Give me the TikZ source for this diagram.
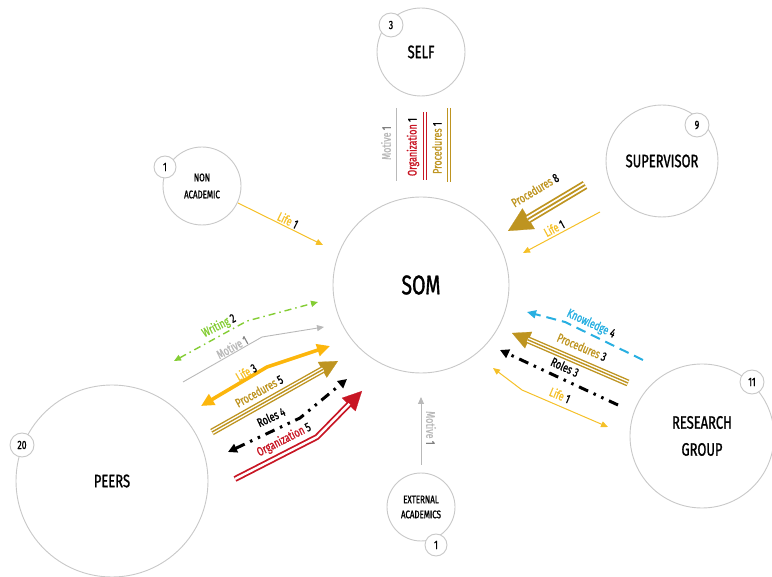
\documentclass[tikz,border=0pt]{standalone}
\usepackage{fontspec}
\setmainfont{Fira Sans}[FakeStretch=0.72, FakeBold=1.2]
\usetikzlibrary{arrows.meta,calc}

\definecolor{colRing}{RGB}{200,200,200}
\definecolor{colMotive}{RGB}{185,185,185}
\definecolor{colLife}{RGB}{245,192,40}
\definecolor{colLifeThick}{RGB}{252,182,12}
\definecolor{colGold}{RGB}{190,148,32}
\definecolor{colRed}{RGB}{200,22,36}
\definecolor{colGreen}{RGB}{132,205,52}
\definecolor{colCyan}{RGB}{40,175,225}

\tikzstyle{actor}=[circle, draw=colRing, line width=0.9pt, fill=white, inner sep=0pt, align=center, font=\fontsize{18}{27}\selectfont]
\tikzstyle{badge}=[circle, draw=colRing, line width=0.9pt, fill=white, inner sep=0pt, minimum size=24pt, font=\fontsize{12}{12}\selectfont]
\tikzstyle{lbl}=[inner sep=0pt, font=\fontsize{12.5}{12.5}\selectfont]
\tikzstyle{smallhead}=[-{Triangle[length=7pt,width=6pt]}]
\tikzstyle{motive}=[colMotive, line width=0.9pt]
\tikzstyle{life}=[colLife, line width=1pt]
\tikzstyle{lifethick}=[colLifeThick, line width=3.6pt, {Triangle[length=13pt,width=12pt]}-{Triangle[length=13pt,width=12pt]}]
\tikzstyle{writing}=[colGreen, line width=1.4pt, dash pattern=on 7pt off 4pt on 1.5pt off 4pt, {Triangle[length=7pt,width=6pt]}-{Triangle[length=7pt,width=6pt]}]
\tikzstyle{knowledge}=[colCyan, line width=2pt, dash pattern=on 10pt off 6pt, -{Triangle[length=9pt,width=8pt]}]
\tikzstyle{roles}=[black, line width=3pt, dash pattern=on 10pt off 6pt on 2.5pt off 6pt on 2.5pt off 6pt]
\tikzstyle{rolesboth}=[roles, {Triangle[length=9pt,width=9pt]}-{Triangle[length=9pt,width=9pt]}]
\tikzstyle{rolesend}=[roles, -{Triangle[length=9pt,width=9pt]}]
\tikzstyle{procshaft}=[colGold, line width=7pt, postaction={draw=white, line width=4.2pt}, postaction={draw=colGold, line width=1.4pt}]
\tikzstyle{procshaftbig}=[colGold, line width=9pt, postaction={draw=white, line width=5.4pt}, postaction={draw=colGold, line width=1.8pt}]
\tikzstyle{prochead}=[colGold, line width=0.2pt, -{Triangle[length=18pt,width=18pt]}]
\tikzstyle{procheadbig}=[colGold, line width=0.2pt, -{Triangle[length=24pt,width=24pt]}]
\tikzstyle{procthin}=[colGold, line width=4.6pt, postaction={draw=white, line width=2pt}]
\tikzstyle{orgshaft}=[colRed, line width=6pt, postaction={draw=white, line width=2.4pt}]
\tikzstyle{orghead}=[colRed, line width=0.2pt, -{Triangle[length=19pt,width=19pt]}]
\tikzstyle{orgthin}=[colRed, line width=4.4pt, postaction={draw=white, line width=1.8pt}]

\begin{document}
\begin{tikzpicture}[x=1pt, y=-1pt]
\useasboundingbox (0,0) rectangle (772,577);

% Actors
\node[actor, minimum size=176pt, font=\fontsize{27}{27}\selectfont] (som) at (421,285) {SOM};
\node[actor, minimum size=88pt] (self) at (421,52) {SELF};
\node[actor, minimum size=112pt] (sup) at (662,161) {SUPERVISOR};
\node[actor, minimum size=78pt, font=\fontsize{11}{17}\selectfont] (nonac) at (202,186) {NON\\ACADEMIC};
\node[actor, minimum size=144pt] (resgr) at (702,436) {RESEARCH\\GROUP};
\node[actor, minimum size=192pt] (peers) at (112,481) {PEERS};
\node[actor, minimum size=68pt, font=\fontsize{11}{15}\selectfont] (extac) at (421,507) {EXTERNAL\\ACADEMICS};

% Counts
\node[badge] (selfN) at (391,25) {3};
\node[badge] (supN) at (697,125) {9};
\node[badge, minimum size=22pt] (nonacN) at (165,167) {1};
\node[badge] (resgrN) at (752,382) {11};
\node[badge] (peersN) at (22,445) {20};
\node[badge, minimum size=22pt] (extacN) at (436,545) {1};

% Non academic
\coordinate (na1) at (238,203);
\coordinate (na2) at (323,245);
\draw[life, smallhead] (na1) -- (na2);
\node[lbl, rotate=-26] (naLife) at (288,220) {\textcolor{colLife}{Life} 1};

% Self
\coordinate (sm1) at (396,108);
\coordinate (sm2) at (396,181);
\coordinate (so1) at (425,112);
\coordinate (so2) at (425,180);
\coordinate (sp1) at (449,108);
\coordinate (sp2) at (449,182);
\draw[motive] (sm1) -- (sm2);
\draw[orgthin] (so1) -- (so2);
\draw[procthin] (sp1) -- (sp2);
\node[lbl, rotate=90] (smLbl) at (386,143) {\textcolor{colMotive}{Motive} \textcolor{gray}{1}};
\node[lbl, rotate=90] (soLbl) at (413,147) {\textcolor{colRed}{Organization} 1};
\node[lbl, rotate=90] (spLbl) at (437,148) {\textcolor{colGold}{Procedures} 1};

% Supervisor
\coordinate (su1) at (585,185);
\coordinate (su2) at (508,231);
\draw[procheadbig] (su1) -- (su2);
\draw[procshaftbig] (su1) -- ($(su2)!23pt!(su1)$);
\node[lbl, rotate=31] (suProc) at (535,190) {\textcolor{colGold}{Procedures} 8};
\coordinate (sl1) at (600,212);
\coordinate (sl2) at (523,253);
\draw[life, smallhead] (sl1) -- (sl2);
\node[lbl, rotate=28] (suLife) at (554,228) {\textcolor{colLife}{Life} 1};

% Peers
\coordinate (pw1) at (174,361);
\coordinate (pw2) at (247,321);
\coordinate (pw3) at (318,302);
\draw[writing] (pw1) -- (pw2) -- (pw3);
\node[lbl, rotate=27] (pwLbl) at (219,326) {\textcolor{colGreen}{Writing} 2};
\coordinate (pm1) at (183,382);
\coordinate (pm2) at (262,337);
\coordinate (pm3) at (324,327);
\draw[motive, smallhead] (pm1) -- (pm2) -- (pm3);
\node[lbl, rotate=29] (pmLbl) at (232,347) {\textcolor{colMotive}{Motive} \textcolor{gray}{1}};
\coordinate (pl1) at (201,406);
\coordinate (pl2) at (267,367);
\coordinate (pl3) at (330,346);
\draw[lifethick] (pl1) -- (pl2) -- (pl3);
\node[lbl, rotate=30] (plLbl) at (246,372) {\textcolor{colLife}{Life} 3};
\coordinate (pp1) at (212,432);
\coordinate (pp2) at (338,361);
\draw[prochead] (pp1) -- (pp2);
\draw[procshaft] (pp1) -- ($(pp2)!17pt!(pp1)$);
\node[lbl, rotate=29] (ppLbl) at (259,391) {\textcolor{colGold}{Procedures} 5};
\coordinate (pr1) at (228,452);
\coordinate (pr2) at (300,418);
\coordinate (pr3) at (347,379);
\draw[rolesboth] (pr1) -- (pr2) -- (pr3);
\node[lbl, rotate=25] (prLbl) at (271,417) {Roles 4};
\coordinate (po1) at (235,479);
\coordinate (po2) at (317,437);
\coordinate (po3) at (362,391);
\draw[orghead] (po2) -- (po3);
\draw[orgshaft] (po1) -- (po2) -- ($(po3)!18pt!(po2)$);
\node[lbl, rotate=27] (poLbl) at (284,440) {\textcolor{colRed}{Organization} 5};

% Research group
\coordinate (rk1) at (643,360);
\coordinate (rk2) at (565,322);
\coordinate (rk3) at (527,312);
\draw[knowledge] (rk1) -- (rk2) -- (rk3);
\node[lbl, rotate=-25] (rkLbl) at (591,324) {\textcolor{colCyan}{Knowledge} 4};
\coordinate (rp1) at (628,383);
\coordinate (rp2) at (512,333);
\draw[prochead] (rp1) -- (rp2);
\draw[procshaft] (rp1) -- ($(rp2)!17pt!(rp1)$);
\node[lbl, rotate=-23] (rpLbl) at (582,347) {\textcolor{colGold}{Procedures} 3};
\coordinate (rr1) at (618,405);
\coordinate (rr2) at (500,350);
\draw[rolesend] (rr1) -- (rr2);
\node[lbl, rotate=-25] (rrLbl) at (565,367) {Roles 3};
\coordinate (rl1) at (608,427);
\coordinate (rl2) at (522,390);
\coordinate (rl3) at (493,368);
\draw[life, {Triangle[length=7pt,width=6pt]}-{Triangle[length=7pt,width=6pt]}] (rl1) -- (rl2) -- (rl3);
\node[lbl, rotate=-23] (rlLbl) at (560,395) {\textcolor{colLife}{Life} 1};

% External academics
\coordinate (em1) at (421,465);
\coordinate (em2) at (421,397);
\draw[motive, smallhead] (em1) -- (em2);
\node[lbl, rotate=-90] (emLbl) at (431,428) {\textcolor{colMotive}{Motive} \textcolor{gray}{1}};
\end{tikzpicture}
\end{document}
